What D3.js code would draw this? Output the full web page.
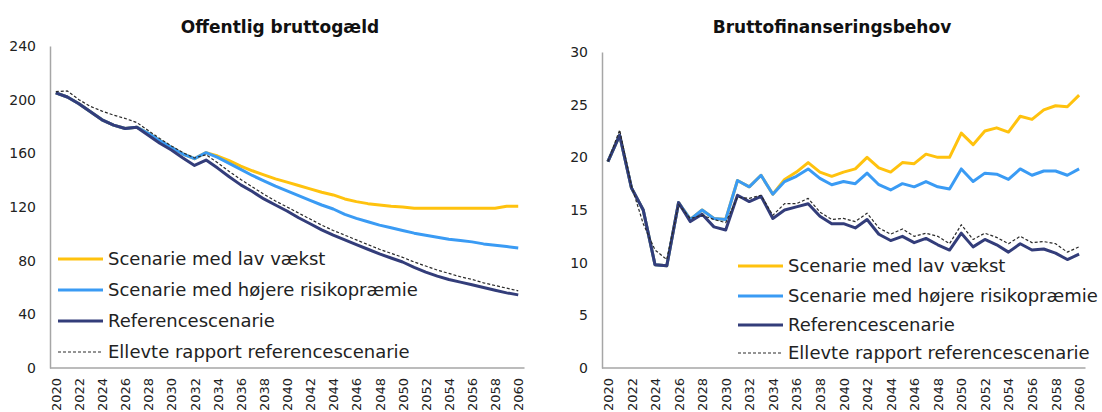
<!DOCTYPE html>
<html>
<head>
<meta charset="utf-8">
<script src="https://cdn.jsdelivr.net/npm/d3@7"></script>
<style>
  body { margin: 0; background: #fff; }
  svg { display: block; font-family: "DejaVu Sans", sans-serif; }
</style>
</head>
<body>
<div id="chart"></div>
<script>
// years on the category axis
var years = d3.range(2020, 2061);

// Offentlig bruttogæld
var debtLow = [205,202,197,191,185,181,178.5,179.5,175,169.5,164.5,159.5,156,160.5,158,154.5,150.5,147,144,141,138.5,136,133.5,131,129,126,124,122.5,121.5,120.5,120,119,119,119,119,119,119,119,119,120.5,120.5];
var debtRisk = [205,202,197,191,185,181,178.5,179.5,175,169.5,164.5,159.5,156,160.5,157,152.5,148,143.5,139.5,135.5,132,128.5,125,121.5,118.5,114.5,111.5,109,106.5,104.5,102.5,100.5,99,97.5,96,95,94,92.5,91.5,90.5,89.5];
var debtRef = [205,202,197,191,185,181,178.5,179.5,173.5,167.5,162.5,156.5,151,155,149,142.5,136.5,131.5,126,121.5,117,112,107.5,103,99,95.5,92,88.5,85,82,79,75,71.5,68.5,66,64,62,60,58,56,54.5];
var debtEleventh = [206,206.5,200,195,191.5,188.5,186,183,177,171,165.5,160.5,156.5,159,153,146.5,140.5,135,129.5,124.5,120,115.5,111,106.5,102.5,99,95.5,92,88.5,85.5,82.5,79,76,73,70.5,68,66,63.5,61.5,59.5,57.5];
var debtTicks = [0, 40, 80, 120, 160, 200, 240];

// Bruttofinanseringsbehov
var needLow = [19.6,22.1,17.1,15.0,9.8,9.7,15.7,14.1,15.0,14.2,14.1,17.8,17.2,18.3,16.5,17.9,18.6,19.5,18.6,18.2,18.6,18.9,20.0,19.0,18.6,19.5,19.4,20.3,20.0,20.0,22.3,21.2,22.5,22.8,22.4,23.9,23.6,24.5,24.9,24.8,25.9];
var needRisk = [19.6,22.1,17.1,15.0,9.8,9.7,15.7,14.1,15.0,14.2,14.1,17.8,17.2,18.3,16.5,17.7,18.2,18.9,18.0,17.4,17.7,17.5,18.5,17.4,16.9,17.5,17.2,17.7,17.2,17.0,18.9,17.7,18.5,18.4,17.9,18.9,18.3,18.7,18.7,18.3,18.9];
var needRef = [19.6,22.1,17.1,15.0,9.8,9.7,15.7,13.9,14.6,13.4,13.1,16.4,15.8,16.3,14.2,15.0,15.3,15.6,14.4,13.7,13.7,13.3,14.1,12.7,12.1,12.5,11.9,12.3,11.7,11.2,12.8,11.5,12.2,11.7,11.0,11.8,11.2,11.3,10.9,10.3,10.8];
var needEleventh = [19.6,22.6,17.3,13.7,11.2,10.3,15.5,14.2,14.5,14.1,13.8,16.2,16.1,16.4,14.5,15.6,15.6,16.1,14.8,14.1,14.2,13.9,14.7,13.3,12.7,13.2,12.5,12.8,12.5,11.8,13.6,12.2,12.8,12.4,11.8,12.5,11.9,12.0,11.8,11.0,11.5];
var needTicks = [0, 5, 10, 15, 20, 25, 30];

var seriesNames = ["Scenarie med lav vækst", "Scenarie med højere risikopræmie", "Referencescenarie", "Ellevte rapport referencescenarie"];
var seriesColors = ["#FFC20E", "#3A9BF4", "#333D7A", "#2A2A2A"];

var svg = d3.select("#chart").append("svg")
  .attr("width", 1102)
  .attr("height", 412);

function drawPanel(p) {
  var x = d3.scalePoint()
    .domain(years)
    .range([p.left, p.right])
    .padding(0.5);
  var y = d3.scaleLinear()
    .domain([0, p.max])
    .range([368, p.top]);

  var g = svg.append("g");

  // title
  g.append("text")
    .attr("x", p.titleX)
    .attr("y", 33)
    .attr("text-anchor", "middle")
    .attr("font-weight", "bold")
    .attr("font-size", 17)
    .attr("fill", "#111")
    .text(p.title);

  // y axis, no tick marks, just labels
  var yAxis = d3.axisLeft(y).tickValues(p.ticks).tickSize(0).tickPadding(14);
  var ya = g.append("g").attr("transform", "translate(" + p.left + ",0)").call(yAxis);
  ya.select(".domain").attr("stroke", "#A6A6A6").attr("stroke-width", 1.5);
  ya.selectAll("text").attr("font-size", 14).attr("fill", "#222").attr("font-family", "DejaVu Sans");

  // x axis, labels every other year, rotated
  var xAxis = d3.axisBottom(x)
    .tickValues(years.filter(function(d) { return d % 2 === 0; }))
    .tickSize(0)
    .tickPadding(0);
  var xa = g.append("g").attr("transform", "translate(0,368)").call(xAxis);
  xa.select(".domain").attr("d", "M" + p.left + ",0H" + (p.right + 0.5)).attr("stroke", "#A6A6A6").attr("stroke-width", 1.5);
  xa.selectAll("text")
    .attr("font-size", 13)
    .attr("fill", "#222")
    .attr("font-family", "DejaVu Sans")
    .attr("text-anchor", "end")
    .attr("dy", "0.35em")
    .attr("transform", "translate(0,10) rotate(-90)")
    .attr("y", 0)
    .attr("x", 0);

  var line = d3.line()
    .x(function(d, i) { return x(years[i]); })
    .y(function(d) { return y(d); });

  p.series.forEach(function(s, i) {
    var path = g.append("path")
      .attr("d", line(s))
      .attr("fill", "none")
      .attr("stroke", seriesColors[i])
      .attr("stroke-linejoin", "round")
      .attr("stroke-width", i === 3 ? 1.2 : 3);
    if (i === 3) path.attr("stroke-dasharray", "3,2");
  });

  // legend
  var leg = g.append("g");
  seriesNames.forEach(function(name, i) {
    var ly = p.legendY[i];
    var l = leg.append("line")
      .attr("x1", p.legendX).attr("x2", p.legendX + 45)
      .attr("y1", ly).attr("y2", ly)
      .attr("stroke", seriesColors[i])
      .attr("stroke-width", i === 3 ? 1.2 : 3);
    if (i === 3) l.attr("stroke-dasharray", "3,2");
    leg.append("text")
      .attr("x", p.legendX + 50)
      .attr("y", ly)
      .attr("dy", "0.35em")
      .attr("font-size", 18)
      .attr("fill", "#222")
      .text(name);
  });
}

drawPanel({
  title: "Offentlig bruttogæld",
  titleX: 280,
  left: 50, right: 524, top: 46, max: 240,
  ticks: debtTicks,
  series: [debtLow, debtRisk, debtRef, debtEleventh],
  legendX: 58,
  legendY: [259, 290, 321, 352]
});

drawPanel({
  title: "Bruttofinanseringsbehov",
  titleX: 832,
  left: 602, right: 1085, top: 52, max: 30,
  ticks: needTicks,
  series: [needLow, needRisk, needRef, needEleventh],
  legendX: 738,
  legendY: [266, 296, 325, 353]
});
</script>
</body>
</html>
